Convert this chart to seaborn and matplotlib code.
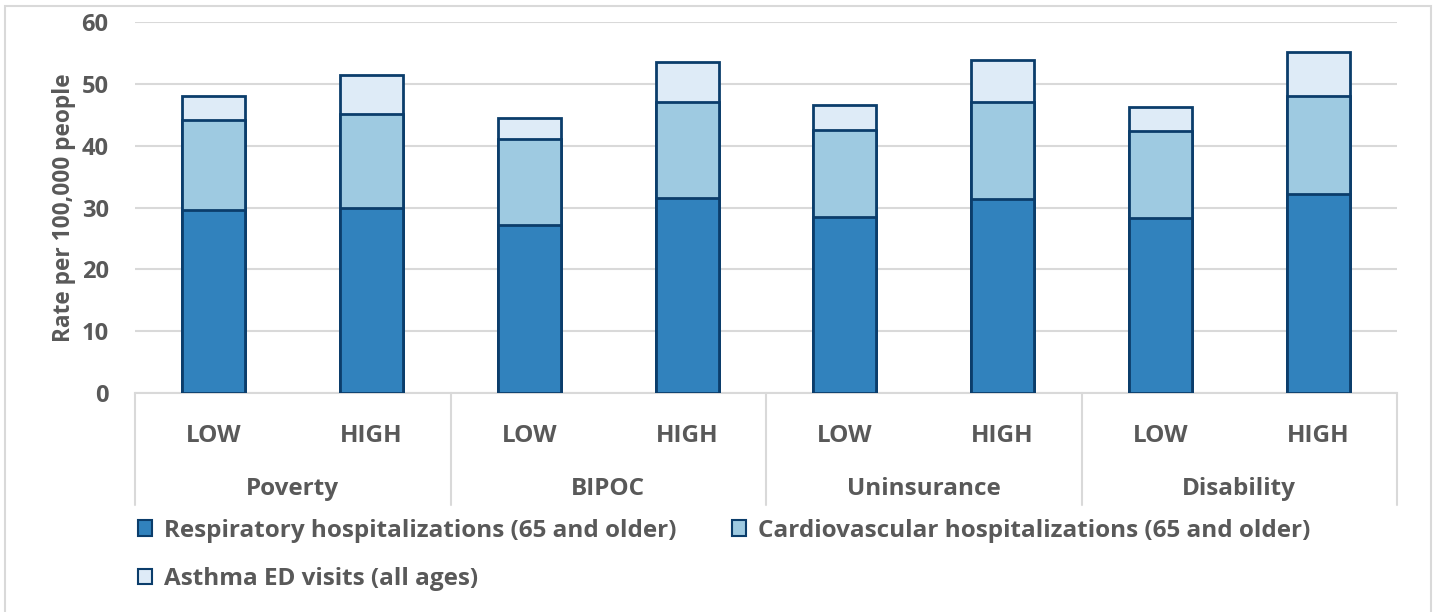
import matplotlib
matplotlib.use("Agg")
import matplotlib.pyplot as plt
import matplotlib.patches as mpatches
import seaborn as sns
import pandas as pd
import numpy as np

groups = ["Poverty", "BIPOC", "Uninsurance", "Disability"]
levels = ["LOW", "HIGH"]
respiratory = [29.6, 30.0, 27.2, 31.6, 28.5, 31.4, 28.3, 32.2]
cardiovascular = [14.5, 15.1, 13.9, 15.5, 14.1, 15.6, 14.1, 15.9]
asthma = [3.9, 6.3, 3.3, 6.4, 3.9, 6.8, 3.9, 7.1]
series_names = ["Respiratory hospitalizations (65 and older)",
                "Cardiovascular hospitalizations (65 and older)",
                "Asthma ED visits (all ages)"]
colors = ["#3182BD", "#9ECAE1", "#DEEBF7"]
edge = "#0B3D6B"
text_color = "#595959"

sns.set_theme(style="white")
plt.rcParams["font.family"] = ["Open Sans", "DejaVu Sans"]
plt.rcParams["font.weight"] = "bold"

cats = [f"{g} {l}" for g in groups for l in levels]
df = pd.DataFrame({
    "cat": cats,
    "resp": respiratory,
    "cardio": cardiovascular,
    "asthma": asthma,
})
df["c2"] = df["resp"] + df["cardio"]
df["c3"] = df["c2"] + df["asthma"]

fig = plt.figure(figsize=(14.37, 6.12), dpi=100)
ax = fig.add_axes([135/1437, 1-393/612, (1397-135)/1437, (393-22)/612])

for col, c in zip(["c3", "c2", "resp"], colors[::-1]):
    sns.barplot(data=df, x="cat", y=col, order=cats, color=c, width=0.4,
                edgecolor=edge, linewidth=2, saturation=1, ax=ax, zorder=3)

ax.set_xlim(-0.5, 7.5)
ax.set_ylim(0, 60)
ax.set_yticks(np.arange(0, 61, 10))
ax.yaxis.grid(True, color="#D9D9D9", linewidth=1.5, zorder=0)
ax.set_axisbelow(True)
for s in ["top", "right", "left"]:
    ax.spines[s].set_visible(False)
ax.spines["bottom"].set_color("#D9D9D9")
ax.spines["bottom"].set_linewidth(1.5)
ax.tick_params(axis="y", length=0, pad=19, labelsize=17, labelcolor=text_color)
ax.set_xticks(range(len(cats)))
ax.set_xticklabels(levels * len(groups))
ax.tick_params(axis="x", length=0, pad=22, labelsize=17.5, labelcolor=text_color)
for lab in ax.get_xticklabels() + ax.get_yticklabels():
    lab.set_fontweight("bold")
ax.set_xlabel("")
ax.set_ylabel("Rate per 100,000 people", fontsize=16.3, fontweight="bold",
              color=text_color, labelpad=4)

# group separators and labels
trans = ax.get_xaxis_transform()
ybot = -((505-393)/371)
for b in [-0.5, 1.5, 3.5, 5.5, 7.5]:
    ax.plot([b, b], [0, ybot], transform=trans, color="#D9D9D9", lw=1.5,
            clip_on=False)
ygl = -((489-393)/371)
for i, g in enumerate(groups):
    ax.text(2*i + 0.5, ygl, g, transform=trans, ha="center", va="center",
            fontsize=17.5, fontweight="bold", color=text_color)

handles = [mpatches.Patch(facecolor=colors[0], edgecolor=edge, lw=1.5, label=series_names[0]),
           mpatches.Patch(facecolor=colors[2], edgecolor=edge, lw=1.5, label=series_names[2]),
           mpatches.Patch(facecolor=colors[1], edgecolor=edge, lw=1.5, label=series_names[1])]
leg = fig.legend(handles=handles, ncol=2, loc="upper left",
                 bbox_to_anchor=(128/1437, 1-509/612), frameon=False,
                 prop={"size": 17.5, "weight": "bold"}, labelcolor=text_color,
                 handlelength=0.6, handleheight=0.6, handletextpad=0.5,
                 columnspacing=2.25, labelspacing=1.0, borderaxespad=0)

fig.patches.append(mpatches.Rectangle((5/1437, -0.01), 1426/1437, 1.01 - 6/612,
                                      transform=fig.transFigure, fill=False,
                                      edgecolor="#D9D9D9", lw=1.5))

fig.savefig("out.png", dpi=100)
